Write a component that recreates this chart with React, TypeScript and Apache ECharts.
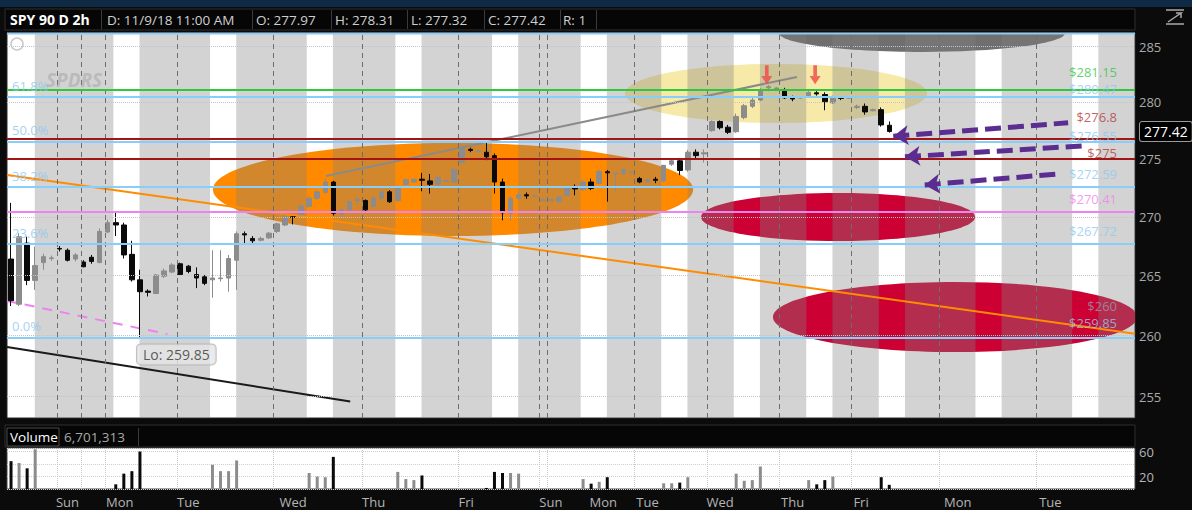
import React, { useEffect, useRef } from 'react';
import * as echarts from 'echarts';

// ---------------- data ----------------
const headerFields = ['SPY 90 D 2h', 'D: 11/9/18 11:00 AM', 'O: 277.97', 'H: 278.31', 'L: 277.32', 'C: 277.42', 'R: 1'];
const volumeTitle = ['Volume', '6,701,313'];

// one entry per 2h bar slot: [open, close, low, high]
const candles: number[][] = [
  [266.4, 262.9, 262.45, 271.2], [262.6, 268.3, 262.45, 268.6], [267.75, 264.6, 264.2, 268.3], [264.6, 265.85, 263.8, 267.45],
  [266.1, 266.6, 265.5, 266.85], [266.45, 266.5, 266.25, 266.7], [267.3, 267.25, 267.05, 267.5], [267.15, 266.3, 266.2, 267.3],
  [266.4, 266.75, 266.2, 266.9], [266.15, 265.75, 265.7, 266.3], [266.55, 266.2, 266.0, 266.75], [266.1, 268.75, 266.05, 269.0],
  [268.7, 269.5, 268.6, 269.75], [269.5, 269.3, 268.35, 270.4], [269.3, 266.75, 266.45, 269.5], [266.8, 264.65, 264.5, 267.95],
  [264.65, 263.65, 259.85, 265.5], [263.7, 263.6, 263.25, 263.85], [263.5, 265.05, 263.45, 265.15], [264.95, 265.4, 264.8, 265.6],
  [265.3, 265.9, 265.2, 266.05], [266.0, 265.1, 265.05, 266.1], [265.8, 265.35, 265.2, 265.9], [265.1, 264.8, 263.95, 265.7],
  [264.9, 264.35, 264.2, 265.05], [264.65, 264.8, 263.15, 267.15], [264.75, 264.8, 264.5, 267.15], [264.8, 266.45, 263.65, 266.75],
  [266.3, 268.55, 263.8, 268.75], [268.55, 268.45, 267.75, 268.75], [268.15, 267.95, 267.75, 268.35], [268.0, 268.15, 267.9, 268.3],
  [268.2, 268.6, 268.1, 268.7], [268.75, 269.4, 268.6, 269.5], [269.3, 270.0, 269.2, 270.2], [270.0, 269.95, 269.35, 270.05],
  [270.2, 270.9, 270.1, 271.1], [270.9, 271.6, 270.8, 271.8], [271.6, 272.15, 271.45, 272.3], [272.1, 273.0, 272.0, 273.3],
  [273.0, 270.3, 270.1, 273.1], [270.25, 270.6, 270.1, 270.7], [270.6, 271.3, 270.5, 271.4], [271.4, 271.5, 271.0, 271.7],
  [271.4, 270.6, 270.5, 271.5], [270.9, 271.6, 270.8, 271.8], [271.6, 272.15, 271.5, 272.3], [272.15, 271.3, 271.2, 272.3],
  [271.4, 272.6, 271.3, 272.7], [272.8, 273.2, 272.5, 273.35], [273.0, 273.25, 272.95, 273.3], [273.25, 273.15, 272.2, 273.8],
  [273.1, 272.8, 272.0, 273.7], [272.8, 273.4, 272.7, 273.5], [273.05, 273.12, 273.0, 273.2], [273.0, 274.1, 272.9, 274.2],
  [274.7, 276.0, 274.6, 276.25], [275.85, 275.75, 275.6, 276.0], [275.65, 275.72, 275.55, 275.8], [275.6, 275.2, 274.9, 276.4],
  [275.3, 273.0, 272.0, 275.5], [273.0, 270.35, 269.7, 273.3], [270.3, 271.6, 269.7, 271.8], [271.6, 271.9, 271.4, 272.1],
  [271.9, 271.8, 271.55, 272.1], [271.75, 271.82, 271.7, 271.9], [271.4, 271.5, 271.35, 271.55], [271.4, 271.5, 271.35, 271.55],
  [271.3, 271.7, 271.2, 271.8], [271.85, 272.45, 271.8, 272.5], [272.5, 272.4, 271.85, 272.8], [272.35, 273.0, 272.2, 273.2],
  [273.0, 272.45, 272.3, 273.3], [272.9, 273.9, 272.8, 274.1], [273.9, 273.8, 271.3, 274.05], [273.7, 273.78, 272.2, 273.8],
  [273.75, 274.1, 273.6, 274.2], [273.8, 273.88, 273.75, 273.95], [273.3, 273.0, 272.9, 273.45], [273.0, 273.2, 272.95, 273.25],
  [273.25, 273.15, 272.9, 273.45], [273.1, 274.45, 273.0, 274.5], [274.55, 274.85, 274.4, 274.95], [274.85, 274.0, 273.6, 275.1],
  [274.05, 275.6, 273.9, 275.8], [275.6, 275.3, 275.0, 275.85], [275.45, 275.55, 274.7, 275.85], [277.5, 278.3, 277.4, 278.4],
  [278.3, 277.75, 277.6, 278.4], [277.8, 277.35, 277.2, 278.0], [277.4, 278.75, 277.3, 279.0], [278.65, 279.7, 278.5, 279.85],
  [279.65, 280.2, 279.5, 280.5], [280.2, 281.1, 280.1, 281.3], [281.3, 281.4, 281.0, 281.55], [281.2, 281.28, 281.15, 281.35],
  [281.15, 280.4, 280.3, 281.3], [280.4, 280.3, 280.1, 280.6], [280.38, 280.45, 280.3, 280.5], [280.6, 280.9, 280.5, 281.0],
  [280.85, 280.75, 280.6, 281.0], [280.7, 280.05, 279.3, 280.9], [279.95, 280.5, 279.85, 280.6], [280.45, 280.35, 280.2, 280.5],
  [280.38, 280.42, 280.3, 280.5], [279.55, 279.65, 279.4, 279.8], [279.65, 279.15, 278.9, 279.9], [279.25, 279.35, 279.2, 279.45],
  [279.35, 278.0, 277.85, 279.55], [277.97, 277.42, 277.32, 278.31],
];

// volume per bar slot (millions)
const volumes: number[] = [
  44.8, 41.9, 33.3, 64, 0, 0, 0, 0, 0, 0, 0, 0, 0, 7.5, 24.7, 28.7, 60.3, 0, 0, 0,
  0, 0, 0, 0, 0, 39, 28.7, 28.7, 45.9, 0, 0, 0, 0, 0, 0, 0, 0, 25.8, 20, 19,
  51.7, 0, 0, 0, 0, 0, 0, 0, 27.5, 16, 14.3, 21.8, 0, 0, 0, 0, 0, 0, 0, 1.7,
  27.5, 25.8, 25.8, 24.7, 0, 0, 0, 0, 0, 0, 0, 16, 8.6, 11.5, 19, 0, 0, 0, 0, 0,
  0, 9.2, 9.2, 10.3, 19, 0, 0, 0, 0, 0, 24.7, 13.2, 14.3, 36.2, 0, 0, 0, 0, 0, 14.3,
  7.5, 14.3, 20, 0, 0, 0, 0, 0, 19, 6.7,
];

const sessionStarts = [0, 13, 25, 37, 48, 60, 71, 81, 90, 99, 108, 120, 132];
const dayBreaks = [5.7, 8.7, 11.7, 20.6, 32.6, 43.6, 55.5, 65.5, 66.5, 77.4, 86.4, 95.3, 104.3, 115.2, 127.2];
const dayLabels = ['Sun', 'Mon', 'Tue', 'Wed', 'Thu', 'Fri', 'Sun', 'Mon', 'Tue', 'Wed', 'Thu', 'Fri', 'Mon', 'Tue'];
const dayLabelAt = [7, 13.5, 22, 35, 45, 56.5, 67, 73.5, 79, 88, 97, 105.5, 117.5, 129];
const priceTicks = [255, 260, 265, 270, 275, 280, 285];
const volumeTicks = [20, 60];

const fibLabels = ['61.8%', '50.0%', '38.2%', '23.6%', '0.0%'];
const fibLevels = [280.47, 276.55, 272.59, 267.72, 259.85];
const keyLevels = [281.15, 276.8, 275, 270.41];
const priceTags = ['$280.47', '$281.15', '$276.55', '$276.8', '$275', '$272.59', '$270.41', '$267.72', '$259.85', '$260'];
const priceTagValues = [280.47, 281.15, 276.55, 276.8, 275, 272.59, 270.41, 267.72, 259.85, 260.15];
const lowPoint = [16, 259.85];
const lowText = 'Lo: 259.85';
const lastClose = 277.42;

const orangeTrend = [[-0.5, 273.61], [139.5, 260.15]];
const grayTrend = [[39.1, 273.53], [97.55, 282.27]];
const pinkTrend = [[-0.5, 262.88], [19.4, 260.13]];
const blackTrend = [[-0.5, 259.06], [42.1, 254.61]];
const purpleArrows = [
  [[109.5, 277.0], [131.2, 278.19]],
  [[110.95, 275.2], [133.3, 276.17]],
  [[113.4, 272.75], [129.95, 273.7]],
];
const redArrows = [[93.8, 282.46], [99.8, 282.46]];
// ellipses: [x left, x right, price top, price bottom]
const ellipses = [
  [25.06, 84.66, 276.41, 268.36],
  [76.21, 113.69, 283.44, 278.18],
  [95.32, 130.82, 287.98, 284.52],
  [85.64, 119.64, 272.05, 267.93],
  [94.56, 139.76, 264.47, 258.64],
];

// ---------------- styles ----------------
const FONT = "'Open Sans', 'Noto Sans', 'DejaVu Sans', sans-serif";
const ellipseColors = ['#ff8a00', '#f7e9a8', '#6f6f6f', '#cc0033', '#cc0033'];
const keyLevelColors = ['#2ec83c', '#a31414', '#a31414', '#ee82ee'];
const fibColor = '#87cefa';
const priceTagColors = ['#8ccaf0', '#38c544', '#8ccaf0', '#b43a3a', '#b43a3a', '#8ccaf0', '#ee82ee', '#8ccaf0', '#8ccaf0', '#9a9aae'];
const priceTagLift = [-8, -17, -5, -22, -6, -13, -13, -13, -14, -28];
const UP = '#8c8c8c';
const DOWN = '#0a0a0a';
const X_MIN = -0.5;
const X_MAX = 139.5;
const TAG_X_RIGHT = 137.27;
const TAG_X_LEFT = 0.12;

export default function App() {
  const ref = useRef<HTMLDivElement>(null);

  useEffect(() => {
    const chart = echarts.init(ref.current as HTMLDivElement, null, { renderer: 'svg' });

    const whites = sessionStarts.map((g, k) => [k === 0 ? X_MIN : g - 0.3, g + 2.95]);
    const grayRanges = whites.map((w, k) => [w[1], k + 1 < whites.length ? whites[k + 1][0] : X_MAX, 270]);

    const trend = (data: number[][], color: string, width: number, type: any = 'solid') => ({
      type: 'line', xAxisIndex: 0, yAxisIndex: 0, z: 3, silent: true, symbol: 'none',
      data, lineStyle: { color, width, type },
    });

    const textItems: any[] = [];
    fibLabels.forEach((t, i) => textItems.push({
      name: t, value: [TAG_X_LEFT, fibLevels[i]],
      label: { show: true, formatter: '{b}', position: 'right', distance: 0, offset: [0, -11], color: '#8cc8f0', fontSize: 13, lineHeight: 13, fontFamily: FONT },
    }));
    priceTags.forEach((t, i) => textItems.push({
      name: t, value: [TAG_X_RIGHT, priceTagValues[i]],
      label: { show: true, formatter: '{b}', position: 'left', distance: 0, offset: [0, priceTagLift[i]], color: priceTagColors[i], fontSize: 13, lineHeight: 13, fontFamily: FONT },
    }));
    textItems.push({
      name: lowText, value: lowPoint,
      label: {
        show: true, formatter: '{b}', position: 'right', distance: 0, offset: [-3, 17], color: '#333', fontSize: 14, fontFamily: FONT,
        backgroundColor: '#e6e6e6', borderColor: '#b0b0b0', borderWidth: 1, borderRadius: 4, padding: [3, 6, 3, 6],
      },
    });

    const markLineData: any[] = [];
    priceTicks.forEach((t) => markLineData.push({
      yAxis: t, lineStyle: { type: 'dotted', color: '#c4c4c4', width: 1 },
      label: { show: true, position: 'end', formatter: String(t), color: '#a9a9a9', fontSize: 13, distance: 4, fontFamily: FONT },
    }));
    dayBreaks.forEach((d) => markLineData.push({ xAxis: d, lineStyle: { type: [5, 4], color: '#6e6e6e', width: 1 } }));
    fibLevels.forEach((p) => markLineData.push({ yAxis: p, lineStyle: { type: 'solid', color: fibColor, width: 2 } }));
    keyLevels.forEach((p, i) => markLineData.push({ yAxis: p, lineStyle: { type: 'solid', color: keyLevelColors[i], width: 2 } }));
    markLineData.push({
      yAxis: lastClose, lineStyle: { color: 'rgba(0,0,0,0)', width: 0 },
      label: {
        show: true, position: 'end', formatter: lastClose.toFixed(2), color: '#ffffff', backgroundColor: '#000000', opacity: 1,
        borderColor: '#9a9a9a', borderWidth: 1, borderRadius: 2, padding: [3, 4, 2, 4], fontSize: 14, distance: 5, fontFamily: FONT,
      },
    });
    purpleArrows.forEach((a) => {
      const ls = { color: '#5c2d91', width: 5, type: [16, 7] };
      markLineData.push([
        { coord: a[0], symbol: 'arrow', symbolSize: 15, lineStyle: ls },
        { coord: a[1], symbol: 'none', lineStyle: ls },
      ]);
    });

    const header: any[] = [
      { type: 'rect', shape: { x: 0, y: 0, width: 1192, height: 7 }, style: { fill: '#0e2a44' } },
      { type: 'rect', shape: { x: 5, y: 9, width: 1130, height: 21 }, style: { fill: '#060606', stroke: '#2e2e2e', lineWidth: 1 } },
      { type: 'rect', shape: { x: 5, y: 425, width: 1130, height: 22 }, style: { fill: '#060606', stroke: '#2e2e2e', lineWidth: 1 } },
      { type: 'line', shape: { x1: 7, y1: 33.5, x2: 1135, y2: 33.5 }, style: { stroke: '#8fcaf0', lineWidth: 2 }, z: 20 },
    ];
    const sepX = [101, 252, 331, 407, 484, 560, 596];
    const textX = [10, 107, 256, 335, 411, 488, 563];
    sepX.forEach((x) => header.push({ type: 'line', shape: { x1: x + 0.5, y1: 10, x2: x + 0.5, y2: 29 }, style: { stroke: '#3a3a3a', lineWidth: 1 } }));
    headerFields.forEach((t, i) => header.push({
      type: 'text', x: textX[i], y: 19.5,
      style: { text: t, fill: i === 0 ? '#ffffff' : '#cfcfcf', font: `${i === 0 ? 'bold 14px' : '13.5px'} ${FONT}`, verticalAlign: 'middle' },
    }));
    header.push({ type: 'rect', shape: { x: 7, y: 428, width: 52, height: 18 }, style: { fill: '#000', stroke: '#4a4a4a' } });
    header.push({ type: 'line', shape: { x1: 138.5, y1: 428, x2: 138.5, y2: 446 }, style: { stroke: '#3a3a3a' } });
    header.push({ type: 'text', x: 10, y: 437, style: { text: volumeTitle[0], fill: '#ffffff', font: `13.5px ${FONT}`, verticalAlign: 'middle' } });
    header.push({ type: 'text', x: 64, y: 437, style: { text: volumeTitle[1], fill: '#a8a8a8', font: `13.5px ${FONT}`, verticalAlign: 'middle' } });
    // decorations: info icon, watermark, zoom icon
    header.push({ type: 'circle', shape: { cx: 17, cy: 44, r: 6 }, style: { fill: 'none', stroke: '#c8c8c8', lineWidth: 1.5 }, z: 20 });
    header.push({ type: 'text', x: 46, y: 70, style: { text: 'SPDRS', fill: 'rgba(140,140,140,0.35)', font: `italic bold 19px ${FONT}` }, z: 20 });
    header.push({ type: 'polyline', shape: { points: [[1166, 10], [1184, 10]] }, style: { stroke: '#aaa', lineWidth: 1.5 } });
    header.push({ type: 'polyline', shape: { points: [[1168, 22], [1181, 13], [1176, 13], [1181, 13], [1181, 18]] }, style: { stroke: '#aaa', lineWidth: 1.5, fill: 'none' } });
    header.push({ type: 'polyline', shape: { points: [[1166, 24], [1184, 24]] }, style: { stroke: '#aaa', lineWidth: 1.5 } });

    const option: any = {
      animation: false,
      backgroundColor: '#0b0b0b',
      textStyle: { fontFamily: FONT },
      grid: [
        { left: 7, top: 33, width: 1128, height: 385, show: true, backgroundColor: '#ffffff', borderColor: '#2b2b2b', borderWidth: 1 },
        { left: 7, top: 448, width: 1128, height: 41, show: true, backgroundColor: '#ffffff', borderColor: '#444', borderWidth: 1 },
      ],
      xAxis: [
        { type: 'value', gridIndex: 0, min: X_MIN, max: X_MAX, show: false },
        {
          type: 'value', gridIndex: 1, min: X_MIN, max: X_MAX, interval: 0.5,
          axisLine: { show: false }, axisTick: { show: false }, splitLine: { show: false },
          axisLabel: {
            color: '#b5b5b5', fontSize: 13, margin: 6, fontFamily: FONT,
            formatter: (v: number) => { const k = dayLabelAt.indexOf(v); return k >= 0 ? dayLabels[k] : ''; },
          },
        },
      ],
      yAxis: [
        { type: 'log', logBase: 10, gridIndex: 0, min: 253.28, max: 286.24, show: false },
        {
          type: 'value', gridIndex: 1, min: 0, max: 66, interval: 20, position: 'right',
          axisLine: { show: false }, axisTick: { show: false },
          splitLine: { show: true, lineStyle: { type: 'dotted', color: '#cfcfcf' } },
          axisLabel: { color: '#b5b5b5', fontSize: 13, margin: 4, fontFamily: FONT, formatter: (v: number) => (volumeTicks.includes(v) ? String(v) : '') },
        },
      ],
      series: [
        {
          type: 'custom', xAxisIndex: 0, yAxisIndex: 0, z: 1, clip: true, silent: true,
          data: ellipses, encode: { x: [0, 1], y: [2, 3] },
          renderItem: (params: any, api: any) => {
            const p0 = api.coord([api.value(0), api.value(2)]);
            const p1 = api.coord([api.value(1), api.value(3)]);
            return {
              type: 'ellipse',
              shape: { cx: (p0[0] + p1[0]) / 2, cy: (p0[1] + p1[1]) / 2, rx: Math.abs(p1[0] - p0[0]) / 2, ry: Math.abs(p1[1] - p0[1]) / 2 },
              style: { fill: ellipseColors[params.dataIndex] },
            };
          },
        },
        {
          type: 'custom', xAxisIndex: 0, yAxisIndex: 0, z: 2, clip: true, silent: true,
          data: grayRanges, encode: { x: [0, 1], y: 2 },
          renderItem: (params: any, api: any) => {
            const cs = params.coordSys;
            const a = api.coord([api.value(0), 270]);
            const b = api.coord([api.value(1), 270]);
            return { type: 'rect', shape: { x: a[0], y: cs.y, width: b[0] - a[0], height: cs.height }, style: { fill: 'rgba(128,128,128,0.35)' } };
          },
        },
        trend(orangeTrend, '#ff8c00', 2),
        trend(grayTrend, '#8a8a8a', 2),
        trend(pinkTrend, '#ee82ee', 2, [10, 8]),
        trend(blackTrend, '#1a1a1a', 2),
        {
          type: 'candlestick', xAxisIndex: 0, yAxisIndex: 0, z: 4, silent: true,
          data: candles.map((c, i) => [i, c[0], c[1], c[2], c[3]]),
          encode: { x: 0, y: [1, 2, 3, 4] },
          barWidth: 5,
          itemStyle: { color: UP, color0: DOWN, borderColor: UP, borderColor0: DOWN, borderWidth: 1 },
          markLine: { silent: true, symbol: ['none', 'none'], label: { show: false }, data: markLineData, animation: false },
        },
        {
          type: 'scatter', xAxisIndex: 0, yAxisIndex: 0, z: 6, silent: true, symbolSize: 0,
          itemStyle: { color: 'transparent' }, data: textItems,
        },
        {
          type: 'scatter', xAxisIndex: 0, yAxisIndex: 0, z: 6, silent: true,
          symbol: 'path://M4,0L8,0L8,10L12,10L6,18L0,10L4,10Z', symbolSize: [11, 19],
          itemStyle: { color: '#f04848' }, data: redArrows,
        },
        {
          type: 'bar', xAxisIndex: 1, yAxisIndex: 1, barWidth: 3, silent: true,
          data: volumes.map((v, i) => ({ value: [i, v], itemStyle: { color: candles[i][1] < candles[i][0] ? DOWN : UP } })).filter((d) => d.value[1] > 0),
          markLine: {
            silent: true, symbol: ['none', 'none'], label: { show: false },
            data: dayBreaks.map((d) => ({ xAxis: d })), lineStyle: { type: 'dotted', color: '#c8c8c8', width: 1 },
          },
        },
      ],
      graphic: { elements: header },
    };

    chart.setOption(option);
    return () => chart.dispose();
  }, []);

  return <div ref={ref} style={{ position: 'absolute', left: 0, top: 0, width: 1192, height: 510, background: '#0b0b0b' }} />;
}
